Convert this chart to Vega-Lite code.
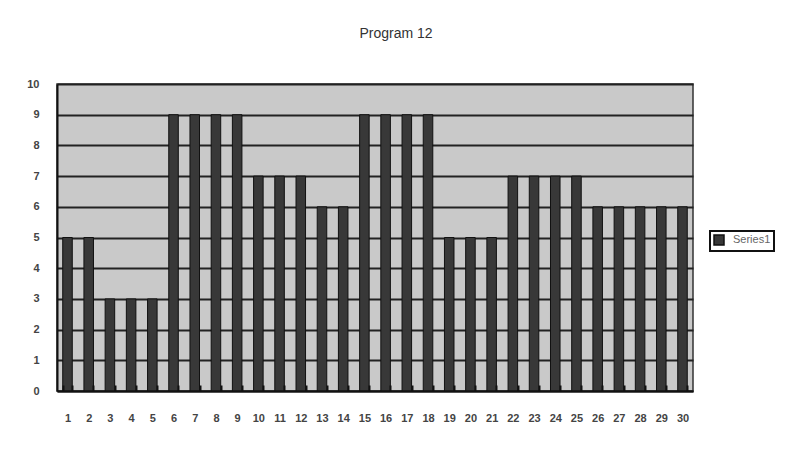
{
  "$schema": "https://vega.github.io/schema/vega-lite/v6.json",
  "width": 636,
  "height": 307,
  "autosize": "none",
  "padding": {"left": 57, "top": 84, "right": 110, "bottom": 60},
  "background": "white",
  "title": {"text": "Program 12", "fontSize": 14, "font": "Liberation Sans", "fontWeight": "normal", "color": "#333", "offset": 37, "dx": 21, "anchor": "middle"},
  "data": {"values": [
    {"n": "1", "v": 5}, {"n": "2", "v": 5}, {"n": "3", "v": 3}, {"n": "4", "v": 3}, {"n": "5", "v": 3},
    {"n": "6", "v": 9}, {"n": "7", "v": 9}, {"n": "8", "v": 9}, {"n": "9", "v": 9}, {"n": "10", "v": 7},
    {"n": "11", "v": 7}, {"n": "12", "v": 7}, {"n": "13", "v": 6}, {"n": "14", "v": 6}, {"n": "15", "v": 9},
    {"n": "16", "v": 9}, {"n": "17", "v": 9}, {"n": "18", "v": 9}, {"n": "19", "v": 5}, {"n": "20", "v": 5},
    {"n": "21", "v": 5}, {"n": "22", "v": 7}, {"n": "23", "v": 7}, {"n": "24", "v": 7}, {"n": "25", "v": 7},
    {"n": "26", "v": 6}, {"n": "27", "v": 6}, {"n": "28", "v": 6}, {"n": "29", "v": 6}, {"n": "30", "v": 6}
  ]},
  "mark": {"type": "bar", "stroke": "#111", "strokeWidth": 1},
  "encoding": {
    "x": {"field": "n", "type": "ordinal", "sort": null,
      "scale": {"paddingInner": 0.55, "paddingOuter": 0.27},
      "axis": {"title": null, "labelAngle": 0, "zindex": 1, "domainColor": "#111", "domainWidth": 2, "ticks": true, "tickBand": "extent", "tickSize": -6, "tickColor": "#111", "tickWidth": 2, "labelPadding": 27, "labelFontSize": 11, "labelColor": "#444", "labelFont": "Liberation Sans", "labelFontWeight": "bold"}},
    "y": {"field": "v", "type": "quantitative",
      "scale": {"domain": [0, 10], "nice": false},
      "axis": {"title": null, "values": [0, 1, 2, 3, 4, 5, 6, 7, 8, 9, 10], "gridColor": "#222", "gridWidth": 2, "gridOpacity": 1, "domain": true, "domainColor": "#111", "domainWidth": 2, "ticks": false, "labelPadding": 18, "labelFontSize": 11, "labelColor": "#444", "labelFont": "Liberation Sans", "labelFontWeight": "bold"}},
    "color": {"datum": "Series1", "scale": {"range": ["#383838"]},
      "legend": {"title": null, "orient": "none", "legendX": 653, "legendY": 147, "strokeColor": "#111", "fillColor": "white", "padding": 3, "symbolType": "square", "symbolSize": 100, "symbolStrokeColor": "#111", "symbolOffset": 0, "labelOffset": 8, "labelFontSize": 11, "labelColor": "#666", "labelFont": "Liberation Sans",
        "encode": {"legend": {"update": {"strokeWidth": {"value": 2}}}}}}
  },
  "config": {"view": {"fill": "#c9c9c9", "stroke": "#333", "strokeWidth": 1.5}, "font": "Liberation Sans"}
}
